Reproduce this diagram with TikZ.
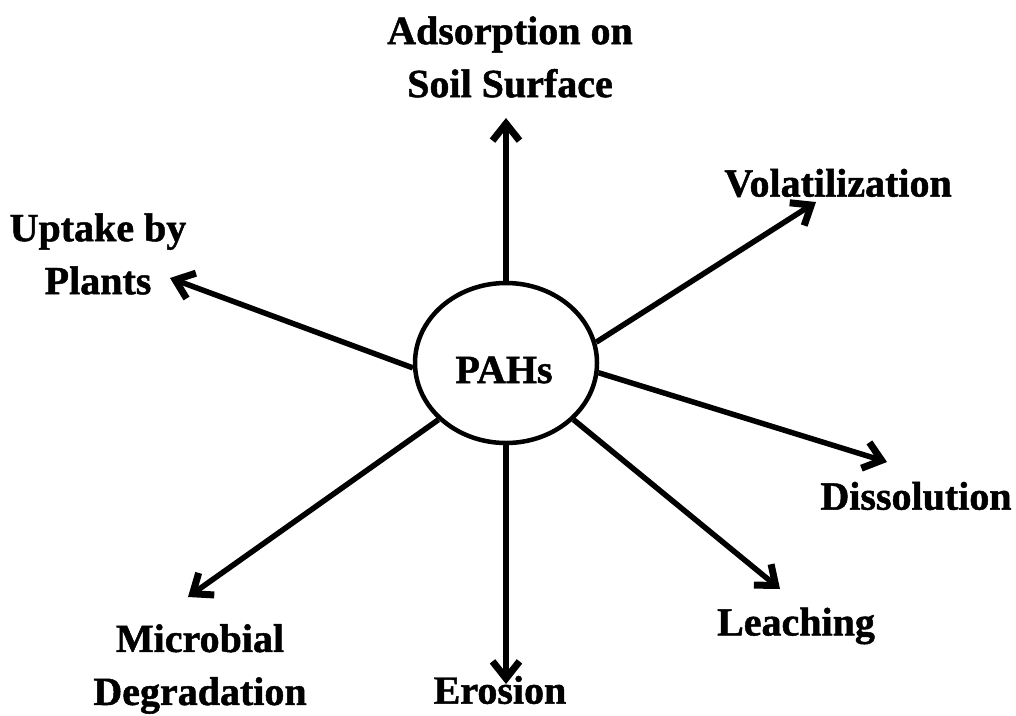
\documentclass[tikz,border=0pt]{standalone}
\usepackage{fontspec}
\setmainfont[BoldFeatures={FakeBold=1.2}]{Liberation Serif}
\usetikzlibrary{arrows.meta,shapes.geometric}
\begin{document}
\begin{tikzpicture}[x=1pt,y=-1pt,
  lbl/.style={font=\fontsize{40}{53}\selectfont\bfseries, align=center, inner sep=0pt},
  flow/.style={line width=5.5pt, -{Straight Barb[length=17pt,width=27pt,line width=7pt]}}]
\useasboundingbox (0,0) rectangle (1016,715);
\node[ellipse, draw, line width=4.5pt, minimum width=182pt, minimum height=160pt, inner sep=0pt] (c) at (506,363) {};
\node[lbl] (pahs) at (504,370) {PAHs};
\node[lbl] (ads) at (510,57) {Adsorption on\\Soil Surface};
\node[lbl] (vol) at (838,183) {Volatilization};
\node[lbl] (upt) at (98,254) {Uptake by\\Plants};
\node[lbl] (dis) at (916,496) {Dissolution};
\node[lbl] (lea) at (796,626) {Leaching};
\node[lbl] (mic) at (200,669) {Microbial\\Degradation};
\node[lbl] (ero) at (500,690) {Erosion};
\coordinate (tA) at (506,118);
\coordinate (tV) at (816,202);
\coordinate (tU) at (170,278);
\coordinate (tD) at (887,462);
\coordinate (tL) at (780,589);
\coordinate (tE) at (506,684);
\coordinate (tM) at (188,597);
\draw[flow] (c.90) -- (tA);
\draw[flow] (c.13) -- (tV);
\draw[flow] (c.183) -- (tU);
\draw[flow] (c.354) -- (tD);
\draw[flow] (c.320) -- (tL);
\draw[flow] (c.270) -- (tE);
\draw[flow] (c.220) -- (tM);
\end{tikzpicture}
\end{document}
